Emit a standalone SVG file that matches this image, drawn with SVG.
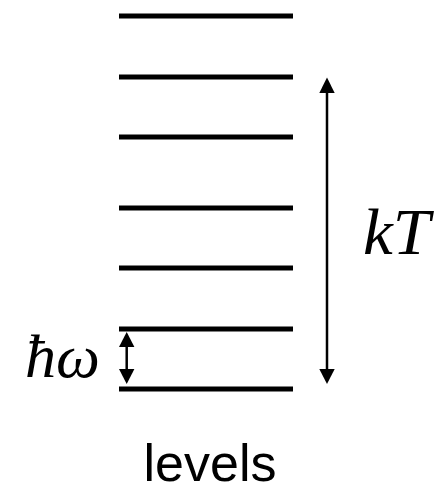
<svg xmlns="http://www.w3.org/2000/svg" width="438" height="485" viewBox="0 0 438 485">
  <defs>
    <style>
      .lvl { stroke: #000; stroke-width: 5; }
      .arr { stroke: #000; stroke-width: 2.5; fill: none; }
      .head { fill: #000; }
      .math { font-family: "Liberation Serif", "DejaVu Serif", serif; font-style: italic; fill: #000; }
      .lab { font-family: "Liberation Sans", Arial, sans-serif; fill: #000; }
    </style>
  </defs>
  <rect width="438" height="485" fill="#fff"/>
  <g id="levels">
    <line class="lvl" x1="119" y1="16" x2="293" y2="16"/>
    <line class="lvl" x1="119" y1="77" x2="293" y2="77"/>
    <line class="lvl" x1="119" y1="137" x2="293" y2="137"/>
    <line class="lvl" x1="119" y1="208" x2="293" y2="208"/>
    <line class="lvl" x1="119" y1="268" x2="293" y2="268"/>
    <line class="lvl" x1="119" y1="329" x2="293" y2="329"/>
    <line class="lvl" x1="119" y1="389" x2="293" y2="389"/>
  </g>
  <g id="connectors">
    <g id="kT-arrow">
      <line class="arr" x1="327" y1="90" x2="327" y2="371"/>
      <polygon class="head" points="327,77.5 319.3,93 334.7,93"/>
      <polygon class="head" points="327,384 319.3,369 334.7,369"/>
    </g>
    <g id="hw-arrow">
      <line class="arr" x1="126.7" y1="344" x2="126.7" y2="372"/>
      <polygon class="head" points="126.7,332 119,347 134.4,347"/>
      <polygon class="head" points="126.7,384 119,369 134.4,369"/>
    </g>
  </g>
  <g id="label-kT">
    <text class="math" x="363" y="254" font-size="66" textLength="67" lengthAdjust="spacingAndGlyphs">kT</text>
  </g>
  <g id="label-hw">
    <text class="math" x="25" y="377" font-size="62" textLength="75" lengthAdjust="spacingAndGlyphs">ħω</text>
  </g>
  <g id="label-levels">
    <text class="lab" x="210" y="481" font-size="52" text-anchor="middle">levels</text>
  </g>
</svg>
